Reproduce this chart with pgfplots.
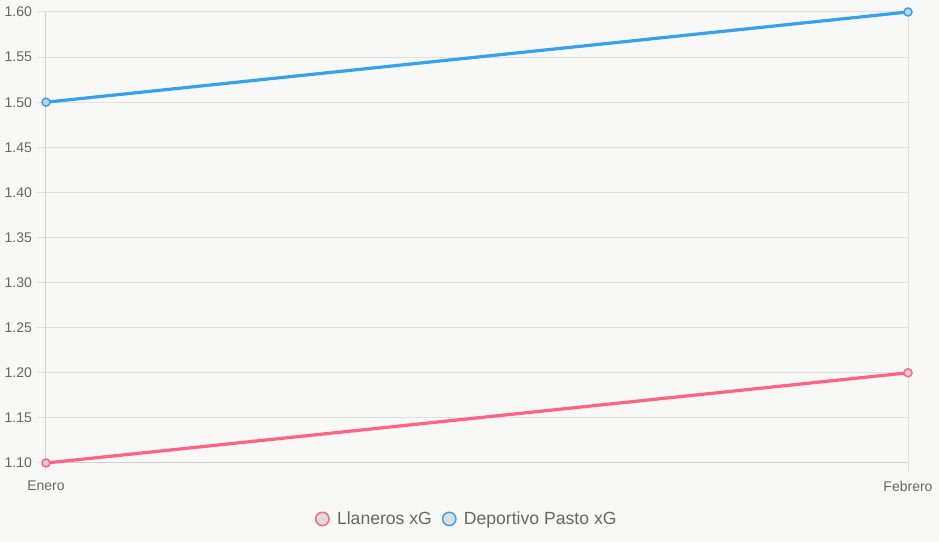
\documentclass[border=0pt]{standalone}
\usepackage{pgfplots}
\pgfplotsset{compat=1.18}
\usepackage{fontspec}
\setmainfont{Liberation Sans}
\definecolor{bgc}{HTML}{F8F8F6}
\definecolor{pinkc}{HTML}{FF6384}
\definecolor{bluec}{HTML}{36A2EB}
\definecolor{gridc}{HTML}{E0E0E0}
\definecolor{axc}{HTML}{CFCFCF}
\definecolor{txtc}{HTML}{666666}
\definecolor{mfill}{HTML}{DDDDDD}
\begin{document}
\begin{tikzpicture}
\fill[bgc] (0,0) rectangle (704.25pt,406.5pt);
\useasboundingbox (0,0) rectangle (704.25pt,406.5pt);
\begin{axis}[
  at={(34.5pt,59.25pt)}, anchor=south west,
  scale only axis, width=646.5pt, height=338.25pt,
  xmin=0, xmax=1, ymin=1.10, ymax=1.60,
  xtick={0,1}, xticklabels={Enero,Febrero},
  ytick={1.10,1.15,...,1.61},
  yticklabel style={/pgf/number format/fixed,/pgf/number format/fixed zerofill,/pgf/number format/precision=2},
  /pgf/number format/assume math mode=true,
  tick label style={font=\fontsize{10.5pt}{12pt}\selectfont, text=txtc},
  grid=major, grid style={gridc, line width=0.75pt},
  axis lines=left, axis line style={-},
  x axis line style={axc, line width=0.75pt}, y axis line style={axc, line width=0.75pt},
  tick style={draw=gridc, line width=0.75pt},
  tick align=outside, major tick length=7pt,
  xticklabel style={yshift=-3pt},
  clip=false,
  legend style={at={(0.492,-0.124)}, anchor=center, draw=none, fill=none,
    font=\fontsize{13.2pt}{15pt}\selectfont, text=txtc, legend columns=2,
    nodes={inner xsep=6pt},
    /tikz/every even column/.append style={column sep=2pt}},
  legend cell align=left,
]
\addlegendimage{only marks, mark=*, mark size=5pt, mark options={draw=pinkc, fill=mfill, line width=1.1pt}}
\addlegendentry{Llaneros xG}
\addlegendimage{only marks, mark=*, mark size=5pt, mark options={draw=bluec, fill=mfill, line width=1.1pt}}
\addlegendentry{Deportivo Pasto xG}
\addplot[forget plot, pinkc, line width=2.4pt, mark=*, mark size=3pt, mark options={fill=pinkc!15!mfill, line width=1.1pt}] coordinates {(0,1.10) (1,1.20)};
\addplot[forget plot, bluec, line width=2.4pt, mark=*, mark size=3pt, mark options={fill=bluec!15!mfill, line width=1.1pt}] coordinates {(0,1.50) (1,1.60)};
\end{axis}
\end{tikzpicture}
\end{document}
